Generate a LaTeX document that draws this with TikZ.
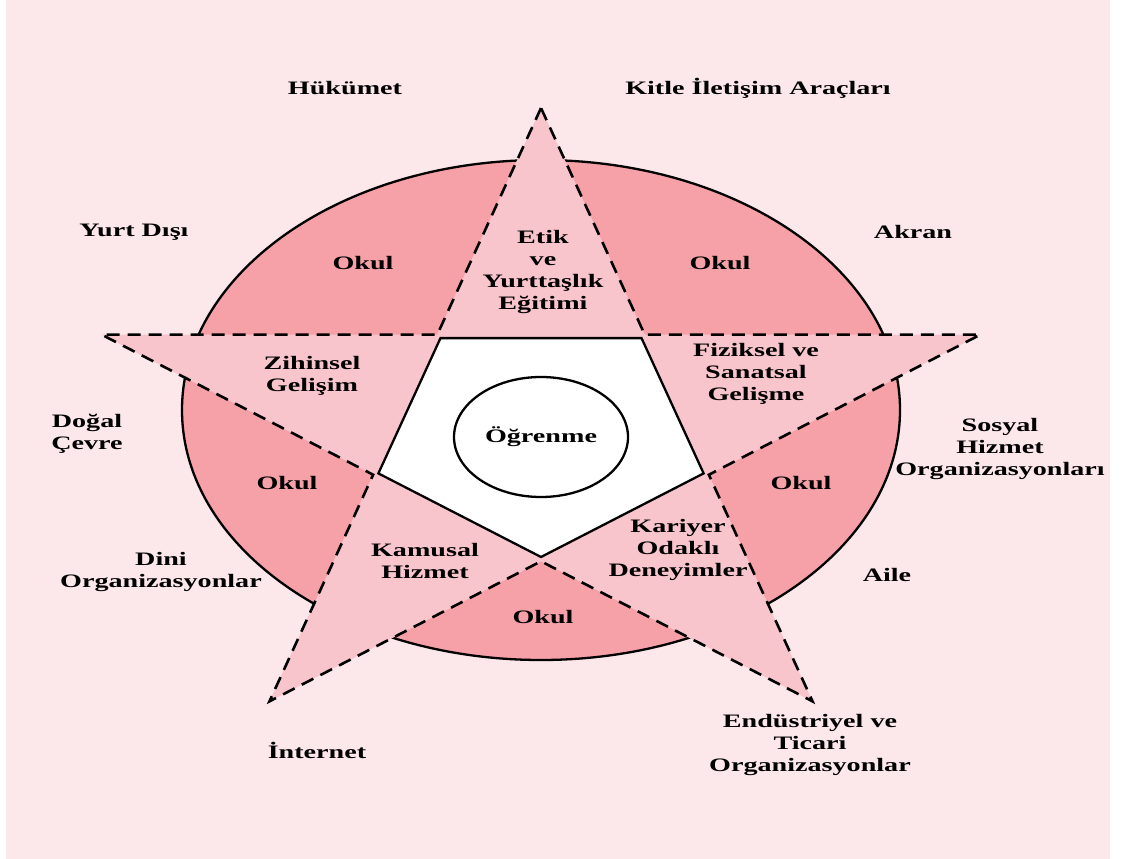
\documentclass[tikz,border=0pt]{standalone}
\usepackage{fontspec}
\setmainfont{Liberation Serif}[FakeStretch=1.48]
\usetikzlibrary{shapes.geometric}

\definecolor{bgpink}{RGB}{252,232,234}
\definecolor{okulpink}{RGB}{246,160,168}
\definecolor{starpink}{RGB}{249,197,204}

\tikzset{
  lbl/.style={font=\bfseries\fontsize{19}{22}\selectfont, align=center, inner sep=0pt},
  starline/.style={line width=2.6pt, dash pattern=on 13pt off 8pt},
  solidline/.style={line width=2.3pt},
}

\begin{document}
\begin{tikzpicture}[x=1pt,y=-1pt]

\useasboundingbox (0,0) rectangle (1124,859);
\fill[white] (0,0) rectangle (1124,859);
\fill[bgpink] (6,0) rectangle (1110,859);

% school ellipse
\draw[solidline,fill=okulpink] (541,410) ellipse [x radius=359, y radius=250];

% star corners
\foreach \i in {0,...,4} {
  \coordinate (P\i) at ({541+462*cos(90+72*\i)},{436-328*sin(90+72*\i)});
  \coordinate (Q\i) at ({541+176.5*cos(126+72*\i)},{436-125.3*sin(126+72*\i)});
  \coordinate (R\i) at ({541+171*cos(126+72*\i)},{436-121*sin(126+72*\i)});
}
\fill[starpink] (P0) -- (Q0) -- (P1) -- (Q1) -- (P2) -- (Q2) -- (P3) -- (Q3) -- (P4) -- (Q4) -- cycle;
\draw[starline] (P0) -- (Q0) -- (P1) -- (Q1) -- (P2) -- (Q2) -- (P3) -- (Q3) -- (P4) -- (Q4) -- cycle;

% inner pentagon
\draw[solidline,fill=white] (R0) -- (R1) -- (R2) -- (R3) -- (R4) -- cycle;
\node[lbl,draw,solidline,ellipse,minimum width=174pt,minimum height=120pt] (ogrenme) at (541,437) {Öğrenme};

% star arms
\node[lbl] (etik) at (543,272) {Etik\\ve\\Yurttaşlık\\Eğitimi};
\node[lbl] (zihinsel) at (312,376) {Zihinsel\\Gelişim};
\node[lbl] (fiziksel) at (756,374) {Fiziksel ve\\Sanatsal\\Gelişme};
\node[lbl] (kamusal) at (425,561) {Kamusal\\Hizmet};
\node[lbl] (kariyer) at (678,550) {Kariyer\\Odaklı\\Deneyimler};

% school parts
\node[lbl] (okulA) at (363,263) {Okul};
\node[lbl] (okulB) at (720,263) {Okul};
\node[lbl] (okulC) at (287,483) {Okul};
\node[lbl] (okulD) at (801,483) {Okul};
\node[lbl] (okulE) at (543,617) {Okul};

% outside
\node[lbl] (hukumet) at (345,88) {Hükümet};
\node[lbl] (kitle) at (758,88) {Kitle İletişim Araçları};
\node[lbl] (yurtdisi) at (134,232) {Yurt Dışı};
\node[lbl] (akran) at (913,232) {Akran};
\node[lbl] (dogal) at (87,434) {Doğal\\Çevre};
\node[lbl] (sosyal) at (1000,449) {Sosyal\\Hizmet\\Organizasyonları};
\node[lbl] (dini) at (161,572) {Dini\\Organizasyonlar};
\node[lbl] (aile) at (887,575) {Aile};
\node[lbl] (internet) at (317,750) {İnternet};
\node[lbl] (endustri) at (810,745) {Endüstriyel ve\\Ticari\\Organizasyonlar};

\end{tikzpicture}
\end{document}
